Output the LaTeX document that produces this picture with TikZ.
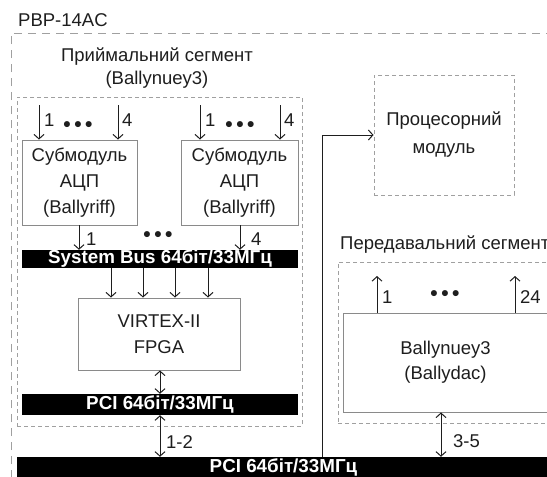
\documentclass[tikz,border=0pt]{standalone}
\usepackage{fontspec}
\setmainfont{Liberation Sans}
\usetikzlibrary{arrows.meta,calc}
\definecolor{edge}{HTML}{8A8A8A}
\definecolor{dashc}{HTML}{A0A0A0}
\definecolor{ink}{HTML}{1E1E1E}
\begin{document}
\begin{tikzpicture}[x=1pt,y=-1pt,
  blk/.style={draw=edge, line width=0.9pt, fill=white, inner sep=0pt, align=center, text=ink},
  dbox/.style={draw=dashc, line width=0.9pt, dash pattern=on 4pt off 3pt, inner sep=0pt, align=center, text=ink},
  outerd/.style={draw=dashc, line width=1pt, dash pattern=on 8pt off 6pt},
  bar/.style={fill=black, inner sep=0pt, text=white, font=\bfseries\fontsize{18.8}{19}\selectfont},
  arr/.style={draw=ink, line width=1pt, -{Straight Barb[length=4.5pt,width=10pt]}},
  darr/.style={draw=ink, line width=1pt, {Straight Barb[length=4.5pt,width=10pt]}-{Straight Barb[length=4.5pt,width=10pt]}},
  lbl/.style={text=ink, inner sep=0pt, font=\fontsize{18.5}{20}\selectfont},
  dotsn/.style={text=ink, inner sep=0pt, font=\bfseries\fontsize{21}{22}\selectfont},
  big/.style={font=\fontsize{18.5}{26}\selectfont}
]
\useasboundingbox (0,0) rectangle (547,477);
\clip (0,0) rectangle (547,477);
\fill[white] (0,0) rectangle (547,477);

% outer dashed frame
\draw[outerd] (11,520) -- (11,33) -- (600,33);
\node[lbl, anchor=west] (title) at (18,20) {PBP-14AC};

% receiving segment
\node[dbox, minimum width=285, minimum height=329] (rx) at (159.5,261.5) {};
\node[lbl, align=center, font=\fontsize{18.5}{23}\selectfont] (rxt) at (157,68) {Приймальний сегмент\\(Ballynuey3)};

\node[blk, big, minimum width=115, minimum height=85] (sub1) at (79.5,182.5) {Субмодуль\\АЦП\\(Ballyriff)};
\node[blk, big, minimum width=117, minimum height=85] (sub2) at (239.5,182.5) {Субмодуль\\АЦП\\(Ballyriff)};

\node[bar, minimum width=276, minimum height=18] (sysbus) at (160,259) {System Bus 64біт/33МГц};
\node[blk, big, minimum width=162, minimum height=72] (fpga) at (159,334) {VIRTEX-II\\FPGA};
\node[bar, minimum width=276, minimum height=21] (pci1) at (160,404.5) {PCI 64біт/33МГц};
\node[bar, minimum width=533, minimum height=20] (pci2) at (283.5,467) {PCI 64біт/33МГц};

% processor module
\node[dbox, minimum width=140, minimum height=120, font=\fontsize{18.5}{28}\selectfont] (proc) at (444,135) {Процесорний\\модуль};

% transmit segment
\node[lbl, anchor=west] (txt) at (340,245) {Передавальний сегмент};
\node[dbox, minimum width=216, minimum height=161] (tx) at (446,342.5) {};
\node[blk, minimum width=205, minimum height=99, font=\fontsize{18.5}{25}\selectfont] (bally) at (445.5,362.5) {Ballynuey3\\(Ballydac)};

% x positions
\coordinate (a1) at (39,105);
\coordinate (a2) at (118,105);
\coordinate (a3) at (200,105);
\coordinate (a4) at (280,105);
\coordinate (o1) at (79,0);
\coordinate (o2) at (240,0);
\coordinate (f1) at (111,0);
\coordinate (f2) at (143,0);
\coordinate (f3) at (175,0);
\coordinate (f4) at (208,0);
\coordinate (m) at (160,0);
\coordinate (px) at (322,0);
\coordinate (t1) at (377,276);
\coordinate (t2) at (515,276);
\coordinate (bx) at (441,0);

% inputs
\draw[arr] (a1) -- (sub1.north -| a1);
\draw[arr] (a2) -- (sub1.north -| a2);
\draw[arr] (a3) -- (sub2.north -| a3);
\draw[arr] (a4) -- (sub2.north -| a4);
\node[lbl, anchor=west] (l1) at (44,120) {1};
\node[lbl, anchor=west] (l2) at (122,120) {4};
\node[lbl, anchor=west] (l3) at (205,120) {1};
\node[lbl, anchor=west] (l4) at (284,120) {4};
\node[dotsn] (d1) at (78,127) {•\,•\,•};
\node[dotsn] (d2) at (240,127) {•\,•\,•};

% submodule outputs
\draw[arr] (sub1.south -| o1) -- (sysbus.north -| o1);
\draw[arr] (sub2.south -| o2) -- (sysbus.north -| o2);
\node[lbl, anchor=west] (l5) at (86,239) {1};
\node[lbl, anchor=west] (l6) at (251,239) {4};
\node[dotsn] (d3) at (158,237) {•\,•\,•};

% bus to FPGA
\draw[arr] (sysbus.south -| f1) -- (fpga.north -| f1);
\draw[arr] (sysbus.south -| f2) -- (fpga.north -| f2);
\draw[arr] (sysbus.south -| f3) -- (fpga.north -| f3);
\draw[arr] (sysbus.south -| f4) -- (fpga.north -| f4);

% FPGA - PCI
\draw[darr] (fpga.south -| m) -- (pci1.north -| m);
\draw[darr] (pci1.south -| m) -- (pci2.north -| m);
\node[lbl, anchor=west] (l7) at (166,442) {1-2};

% to processor
\draw[arr] (pci2.north -| px) |- (proc.west);

% transmit outputs
\draw[arr] (bally.north -| t1) -- (t1);
\draw[arr] (bally.north -| t2) -- (t2);
\node[lbl, anchor=west] (l8) at (382,297) {1};
\node[lbl, anchor=west] (l9) at (520,297) {24};
\node[dotsn] (d4) at (445,296) {•\,•\,•};

\draw[darr] (bally.south -| bx) -- (pci2.north -| bx);
\node[lbl, anchor=west] (l10) at (453,441) {3-5};
\end{tikzpicture}
\end{document}
